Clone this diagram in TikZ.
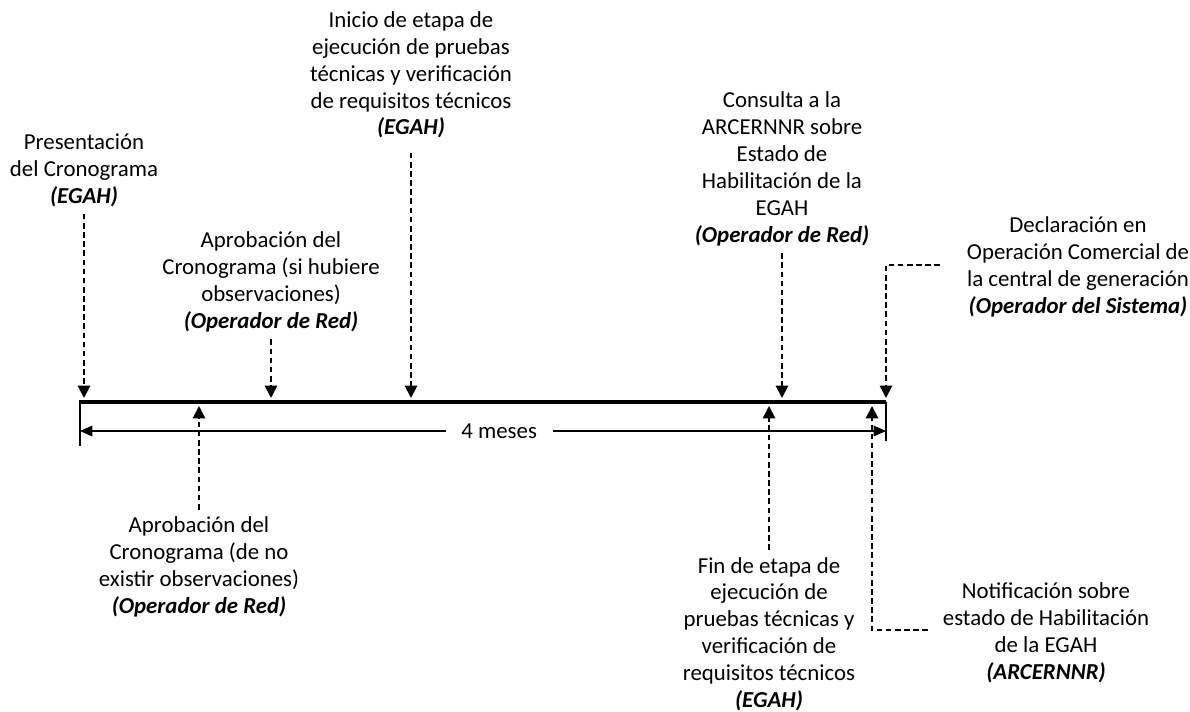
\documentclass[tikz,border=0pt]{standalone}
\usepackage{fontspec}
\setmainfont{Carlito}
\usetikzlibrary{arrows.meta}

\newcommand{\role}[1]{\textbf{\textit{#1}}}
\def\lineY{402}
\def\topY{398}
\def\botY{406}

\begin{document}
\begin{tikzpicture}[x=0.02cm,y=-0.02cm,
    evtext/.style={align=center,font=\fontsize{13}{15.3}\selectfont,inner sep=4pt},
    evarrow/.style={line width=1.1pt,dash pattern=on 3.2pt off 2pt,-{Triangle[width=7pt,length=7pt]}},
    dimarrow/.style={line width=0.8pt,{Triangle[width=6pt,length=7pt]}-{Triangle[width=6pt,length=7pt]}}]
    \useasboundingbox (0,0) rectangle (1190,712);
    % timeline
    \coordinate (start) at (80,\lineY);
    \coordinate (end) at (886,\lineY);
    \coordinate (lefttick) at (80,446);
    \coordinate (righttick) at (886,441);
    \draw[line width=2.4pt] (start) -- (end);
    \draw[line width=0.8pt] (80,400) -- (lefttick);
    \draw[line width=0.8pt] (end) -- (righttick);
    % duration
    \coordinate (d1) at (80,431);
    \coordinate (d2) at (886,431);
    \draw[dimarrow] (d1) -- node[pos=0.52,fill=white,inner xsep=9pt,font=\fontsize{13}{15.3}\selectfont] (dur) {4 meses} (d2);
    % events above the line
    \node[evtext] (t1) at (84,170) {Presentación\\del Cronograma\\\role{(EGAH)}};
    \node[evtext] (t2) at (271,282) {Aprobación del\\Cronograma (si hubiere\\observaciones)\\\role{(Operador de Red)}};
    \node[evtext,inner sep=8pt] (t3) at (411,75) {Inicio de etapa de\\ejecución de pruebas\\técnicas y verificación\\de requisitos técnicos\\\role{(EGAH)}};
    \node[evtext] (t4) at (782,169) {Consulta a la\\ARCERNNR sobre\\Estado de\\Habilitación de la\\EGAH\\\role{(Operador de Red)}};
    \node[evtext] (t5) at (1078,267) {Declaración en\\Operación Comercial de\\la central de generación\\\role{(Operador del Sistema)}};
    \draw[evarrow] (t1.south) -- (t1.south |- 0,\topY);
    \draw[evarrow] (t2.south) -- (t2.south |- 0,\topY);
    \draw[evarrow] (t3.south) -- (t3.south |- 0,\topY);
    \draw[evarrow] (t4.south) -- (t4.south |- 0,\topY);
    \coordinate (e5) at (940,265);
    \coordinate (a5) at (886,\topY);
    \draw[evarrow] (e5) -| (a5);
    % events below the line
    \node[evtext] (t6) at (199,567) {Aprobación del\\Cronograma (de no\\existir observaciones)\\\role{(Operador de Red)}};
    \node[evtext] (t7) at (769,634) {Fin de etapa de\\ejecución de\\pruebas técnicas y\\verificación de\\requisitos técnicos\\\role{(EGAH)}};
    \node[evtext] (t8) at (1046,633) {Notificación sobre\\estado de Habilitación\\de la EGAH\\\role{(ARCERNNR)}};
    \draw[evarrow] (t6.north) -- (t6.north |- 0,\botY);
    \draw[evarrow] (t7.north) -- (t7.north |- 0,\botY);
    \coordinate (e8) at (928,630);
    \coordinate (a8) at (872,\botY);
    \draw[evarrow] (e8) -| (a8);
\end{tikzpicture}
\end{document}
